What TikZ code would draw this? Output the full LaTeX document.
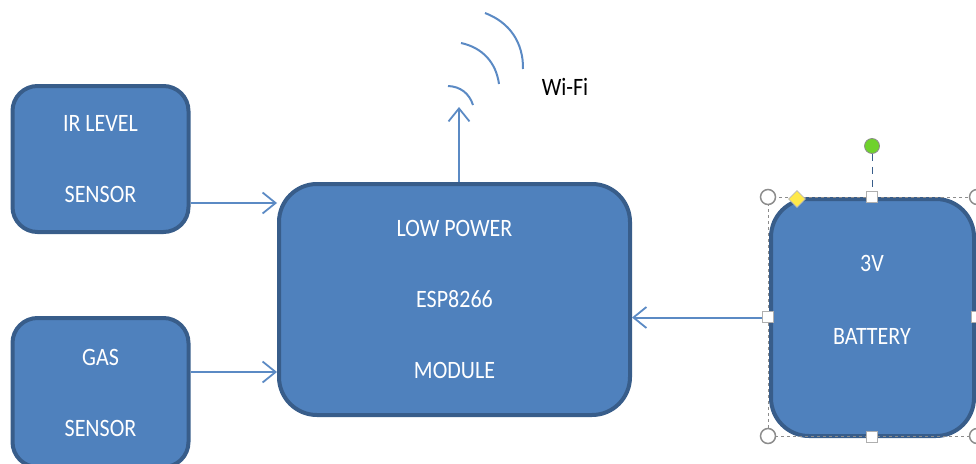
\documentclass[tikz,border=0pt]{standalone}
\usepackage{fontspec}
\setmainfont[FakeStretch=0.88]{Carlito}
\usetikzlibrary{arrows.meta,shapes.geometric}
\definecolor{BoxBlue}{HTML}{4F81BD}
\definecolor{BoxEdge}{HTML}{385D8A}
\definecolor{LinkBlue}{HTML}{5B8AC4}
\definecolor{HandleGray}{HTML}{8C8C8C}
\definecolor{HandleGreen}{HTML}{6FD22C}
\definecolor{HandleYellow}{HTML}{FFE94A}
\tikzset{
  blockbox/.style={
    rectangle, draw=BoxEdge, fill=BoxBlue, line width=4pt, text=white, align=center,
    font=\fontsize{25}{71}\selectfont, inner sep=0pt, execute at begin node=\rule{0pt}{21pt}
  },
  sensorbox/.style={blockbox, rounded corners=25pt, minimum width=176pt, minimum height=146pt},
  linkarrow/.style={-{Straight Barb[length=13pt,width=21pt,line width=1.8pt]}, LinkBlue, line width=2pt},
  wifiarc/.style={LinkBlue, line width=2pt},
  squarehandle/.style={rectangle, draw=HandleGray!70, fill=white, line width=1pt, minimum size=11pt, inner sep=0pt},
  roundhandle/.style={circle, draw=HandleGray, fill=white, line width=1.5pt, minimum size=15pt, inner sep=0pt},
}
\begin{document}
\begin{tikzpicture}[x=1pt,y=-1pt]
    \useasboundingbox (0,0) rectangle (976,463);
    \clip (0,0) rectangle (976,463);
    \node[sensorbox] (irbox) at (100.5,159) {IR LEVEL\\SENSOR};
    \node[sensorbox, minimum height=149pt] (gasbox) at (100.5,392.5) {GAS\\SENSOR};
    \node[blockbox, rounded corners=38pt, minimum width=351pt, minimum height=231pt] (espbox) at (454.5,299.5) {LOW POWER\\ESP8266\\MODULE};
    \node[blockbox, rounded corners=38pt, minimum width=203pt, minimum height=237pt] (batbox) at (872.5,317.5) {};
    \node[text=white, align=center, font=\fontsize{25}{73}\selectfont] (battext) at (872,300) {3V\\BATTERY};
    % selection frame
    \draw[HandleGray, line width=0.7pt, dashed] (768,197) rectangle (977,436);
    \draw[linkarrow] ([yshift=-44pt]irbox.east) -- ([yshift=96.5pt]espbox.west);
    \draw[linkarrow] ([yshift=20.5pt]gasbox.east) -- ([yshift=-72.5pt]espbox.west);
    \draw[linkarrow] (batbox.west) -- ([yshift=-18pt]espbox.east);
    \coordinate (wifitip) at (459,107);
    \draw[linkarrow] (espbox.north -| wifitip) -- (wifitip);
    \draw[wifiarc] (448,86) to[bend left=35] (473,105);
    \draw[wifiarc] (461,43) to[bend left=35] (499,84);
    \draw[wifiarc] (485,13) to[bend left=35] (523,69);
    \node[font=\fontsize{25}{28}\selectfont] (wifilabel) at (565,87) {Wi-Fi};
    % handles
    \node[circle, draw=HandleGray, fill=HandleGreen, line width=0.8pt, minimum size=15pt, inner sep=0pt] (rotgrip) at (872,146) {};
    \node[squarehandle] (htop) at (872,197) {};
    \draw[BoxEdge, line width=1pt, dash pattern=on 7pt off 6pt] (rotgrip) -- (htop);
    \node[squarehandle] (hbottom) at (872,437) {};
    \node[squarehandle] (hwest) at (768,317) {};
    \node[squarehandle] (heast) at (977,317) {};
    \node[roundhandle] (hnw) at (768,197) {};
    \node[roundhandle] (hne) at (977,197) {};
    \node[roundhandle] (hsw) at (768,436) {};
    \node[roundhandle] (hse) at (977,436) {};
    \node[diamond, draw=HandleGray!60, fill=HandleYellow, line width=0.6pt, minimum size=17pt, inner sep=0pt] (hadjust) at (797,199) {};
  \end{tikzpicture}
\end{document}
